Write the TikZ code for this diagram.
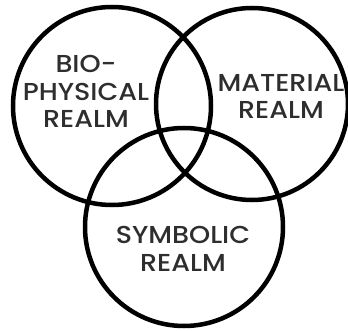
\documentclass[tikz,border=0pt]{standalone}
\usepackage{fontspec}
\setmainfont{Poppins}
\newfontfamily\realmfont{Poppins Medium}[FakeStretch=1.1]
\usepackage{tikz}

\begin{document}
\begin{tikzpicture}[x=1pt, y=-1pt,
  realm/.style={draw=black, line width=4.5pt, circle, inner sep=0pt},
  realmtext/.style={align=center, inner sep=0pt, text=black!82, anchor=base,
                    font=\realmfont\fontsize{24.5}{27.5}\selectfont}
]
  \useasboundingbox (0,0) rectangle (348,331);

  % Circles
  \node[realm, minimum size=198pt] (bio)      at (112,106) {};
  \node[realm, minimum size=192pt] (material) at (252,104) {};
  \node[realm, minimum size=198pt] (symbolic) at (184,227) {};

  % Texts (placed at the baseline of their last line)
  \node[realmtext] (biotext)      at (86,128)  {BIO-\\PHYSICAL\\REALM};
  \node[realmtext] (materialtext) at (281,119) {MATERIAL\\REALM};
  \node[realmtext] (symbolictext) at (183,271) {SYMBOLIC\\REALM};
\end{tikzpicture}
\end{document}
